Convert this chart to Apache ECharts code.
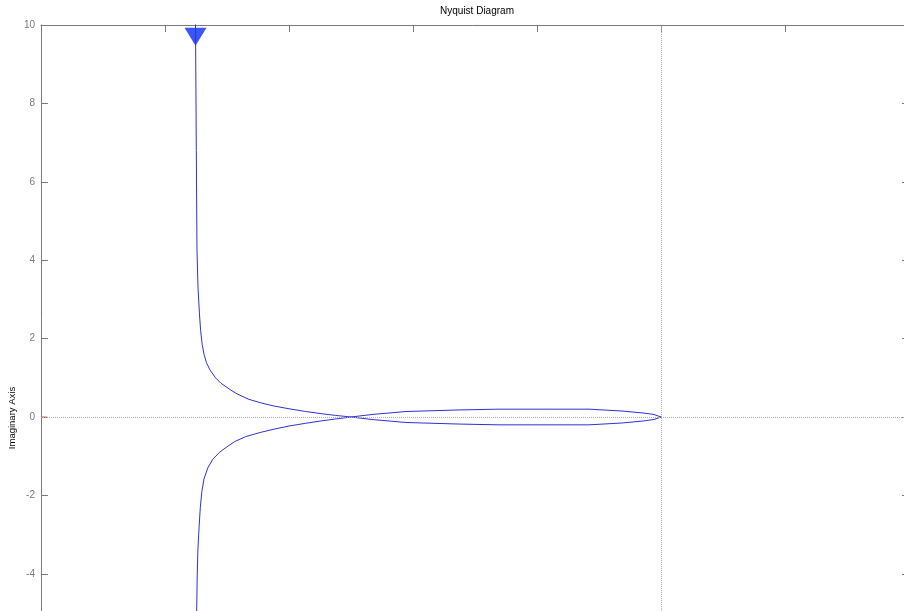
<!DOCTYPE html>
<html><head><meta charset="utf-8">
<script src="https://cdn.jsdelivr.net/npm/echarts@6/dist/echarts.min.js"></script>
<style>html,body{margin:0;padding:0;background:#fff;overflow:hidden}#c{width:904px;height:611px}</style>
</head><body><div id="c"></div>
<script>
const titleText = 'Nyquist Diagram';
const yLabelText = 'Imaginary Axis';
const xRange = [-1, 0.4];
const xStep = 0.2;
const yRange = [-10, 10];
const yStep = 2;

// Positive-imaginary branch coming down from +j infinity to the real-axis crossing
const upperBranch = [
  [-0.7510, 11.0], [-0.7508, 10.0], [-0.7495, 6.8], [-0.7484, 4.26], [-0.7468, 3.32],
  [-0.7445, 2.65], [-0.7425, 2.2], [-0.7400, 1.85], [-0.7371, 1.6], [-0.7330, 1.38],
  [-0.7274, 1.2], [-0.7185, 1.0], [-0.7097, 0.86], [-0.6950, 0.70], [-0.6839, 0.59],
  [-0.6645, 0.45], [-0.6452, 0.36], [-0.6242, 0.28], [-0.6000, 0.21], [-0.5731, 0.14],
  [-0.5480, 0.085], [-0.5247, 0.04], [-0.5000, 0.0]
];
// Narrow loop from the crossing to the origin (below the axis)
const lowerLoop = [
  [-0.5000, 0.0], [-0.4661, -0.064], [-0.4113, -0.14], [-0.3258, -0.18], [-0.2613, -0.20],
  [-0.1806, -0.20], [-0.1161, -0.20], [-0.0629, -0.153], [-0.0274, -0.10], [-0.0113, -0.064], [0, 0]
];
// Loop back from the origin to the crossing (above the axis)
const upperLoop = [
  [0, 0], [-0.0113, 0.064], [-0.0274, 0.10], [-0.0629, 0.153], [-0.1161, 0.20],
  [-0.1806, 0.20], [-0.2613, 0.20], [-0.3258, 0.18], [-0.4113, 0.14], [-0.4661, 0.064], [-0.5000, 0.0]
];
// Negative-imaginary branch going down to -j infinity
const lowerBranch = [
  [-0.5000, 0.0], [-0.5247, -0.05], [-0.5480, -0.10], [-0.5731, -0.16], [-0.6000, -0.23],
  [-0.6242, -0.31], [-0.6452, -0.39], [-0.6698, -0.50], [-0.6880, -0.63], [-0.7000, -0.76],
  [-0.7120, -0.90], [-0.7230, -1.08], [-0.7310, -1.30], [-0.7371, -1.58], [-0.7405, -1.90],
  [-0.7430, -2.30], [-0.7450, -2.80], [-0.7470, -3.40], [-0.7480, -4.03], [-0.7489, -4.95],
  [-0.7500, -7.0], [-0.7508, -10.0], [-0.7510, -11.0]
];
const arrowPoint = [-0.7508, 9.70];
const criticalPoint = [-1, 0];
const criticalTick = [-0.99, 0];

const curve = upperBranch.concat(lowerLoop.slice(1), upperLoop.slice(1), lowerBranch.slice(1));

const gray = '#7a7a7a';
const font = 'Liberation Sans, Arial, sans-serif';
const chart = echarts.init(document.getElementById('c'), null, {renderer: 'canvas'});

function xAx(pos, showLabel) {
  return {
    type: 'value', position: pos, min: xRange[0], max: xRange[1], interval: xStep,
    axisLine: {show: true, onZero: false, lineStyle: {color: gray, width: 1}},
    axisTick: {show: true, inside: true, length: 7, lineStyle: {color: gray}},
    axisLabel: {show: showLabel, color: gray, fontSize: 10, fontFamily: font},
    splitLine: {show: false}
  };
}
function yAx(pos, showLabel) {
  return {
    type: 'value', position: pos, min: yRange[0], max: yRange[1], interval: yStep,
    axisLine: {show: true, onZero: false, lineStyle: {color: gray, width: 1}},
    axisTick: {show: true, inside: true, length: 7, lineStyle: {color: gray}},
    axisLabel: {show: showLabel, color: gray, fontSize: 10, fontFamily: font, margin: 6},
    splitLine: {show: false}
  };
}

chart.setOption({
  animation: false,
  backgroundColor: '#ffffff',
  title: {
    text: titleText, left: 472, top: 1, textAlign: 'center',
    textStyle: {fontSize: 10, fontWeight: 'normal', color: '#000', fontFamily: font}
  },
  grid: {left: 41, top: 25, width: 868, height: 784, containLabel: false, outerBoundsMode: 'none'},
  xAxis: [xAx('bottom', true), xAx('top', false)],
  yAxis: [yAx('left', true), yAx('right', false)],
  graphic: [{
    type: 'text', x: 12, y: 418, rotation: Math.PI / 2,
    style: {text: yLabelText, fill: '#000', font: '9.5px ' + font, align: 'center', verticalAlign: 'middle'}
  }],
  series: [
    {
      type: 'line', xAxisIndex: 0, yAxisIndex: 0, data: [], silent: true,
      markLine: {
        symbol: 'none', silent: true, label: {show: false},
        lineStyle: {color: '#b0b0b0', type: 'dotted', width: 1},
        data: [{xAxis: 0}, {yAxis: 0}]
      }
    },
    {
      type: 'line', data: curve, showSymbol: false, smooth: false, clip: true,
      lineStyle: {color: '#3030d4', width: 1}
    },
    {
      type: 'line', data: [criticalPoint, criticalTick], showSymbol: false, clip: false,
      lineStyle: {color: '#e06060', width: 1}
    },
    {
      type: 'scatter', data: [arrowPoint], symbol: 'triangle', symbolRotate: 180,
      symbolSize: [22, 18], itemStyle: {color: '#0a2cf5'}
    }
  ]
});
</script>
</body></html>
